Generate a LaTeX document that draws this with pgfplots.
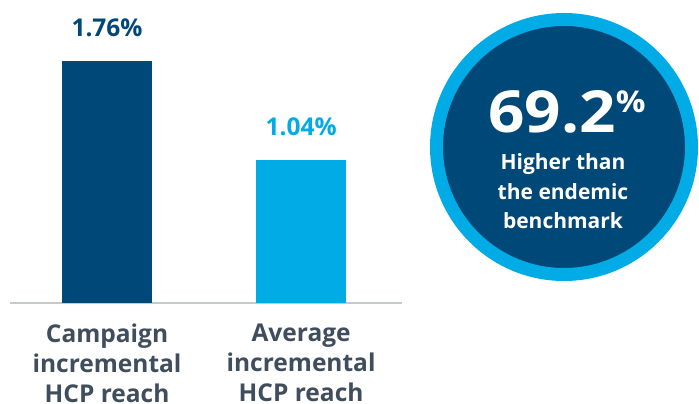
\documentclass[border=0pt]{standalone}
\usepackage{pgfplots}
\pgfplotsset{compat=1.18}
\usepackage{fontspec}
\setmainfont{Open Sans}
\definecolor{navy}{HTML}{004877}
\definecolor{sky}{HTML}{00ABE6}
\definecolor{lbl}{HTML}{3F4D5C}
\definecolor{axgray}{HTML}{C5C9CE}
\begin{document}
\begin{tikzpicture}[x=1pt,y=1pt]
\path[use as bounding box] (0,0) rectangle (699,404);
\begin{axis}[
  at={(10pt,101pt)}, anchor=south west,
  scale only axis, width=392pt, height=242pt,
  xmin=-0.5, xmax=1.52, ymin=0, ymax=1.76,
  ybar, bar width=90pt, bar shift=0pt,
  axis x line*=bottom, axis y line=none,
  x axis line style={draw=axgray, line width=1.5pt, -},
  xtick={0,1},
  xticklabels={Campaign\\incremental\\HCP reach, Average\\incremental\\HCP reach},
  major tick length=0pt,
  xticklabel style={align=center, font=\fontsize{24.5}{30}\selectfont\bfseries, text=lbl, anchor=north, inner sep=0pt, yshift=-21pt},
  /pgf/number format/assume math mode=true,
  nodes near coords={\pgfmathprintnumber[fixed,precision=2,zerofill]{\pgfplotspointmeta}\%},
  nodes near coords style={font=\fontsize{24.5}{24.5}\selectfont\bfseries, anchor=base, inner sep=0pt, yshift=24pt},
  clip=false,
]
\addplot[fill=navy, draw=none, nodes near coords style={text=navy}] coordinates {(0,1.76)};
\addplot[fill=sky, draw=none, nodes near coords style={text=sky}] coordinates {(1,1.04)};
\end{axis}
\draw[sky, line width=13pt, fill=navy] (564,257) circle (127.5);
\node[anchor=base, text=white, inner sep=0pt, font=\bfseries] at (567,271)
  {\scalebox{1.1}[1]{\fontsize{58}{58}\selectfont 69.2\raisebox{20pt}{\fontsize{30}{30}\selectfont\%}}};
\node[anchor=base, text=white, inner sep=0pt, align=center, font=\fontsize{21}{29.5}\selectfont\bfseries] at (563,175)
  {Higher than\\the endemic\\benchmark};
\end{tikzpicture}
\end{document}
